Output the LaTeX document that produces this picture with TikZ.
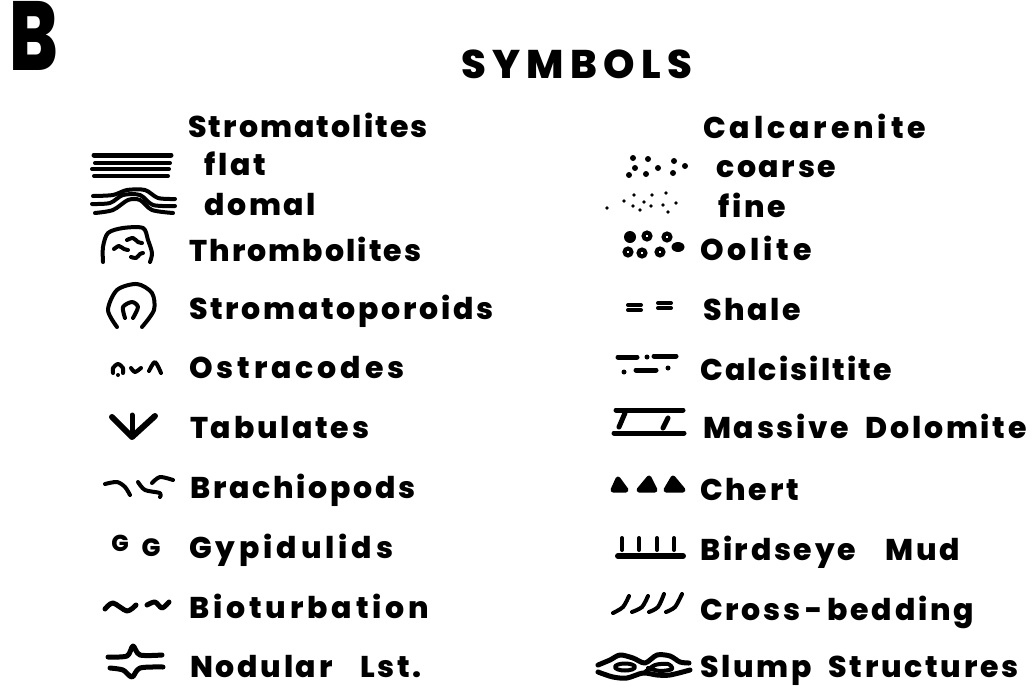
\documentclass[tikz,border=0pt]{standalone}
\usepackage{fontspec}
\setmainfont{Poppins}[LetterSpace=9, BoldFont={Poppins ExtraBold}]
\usepackage{tikz}

\begin{document}
\begin{tikzpicture}[
  x=1pt, y=-1pt,
  lbl/.style={anchor=base west, inner sep=0pt, font=\bfseries\fontsize{30}{34}\selectfont},
  wide lbl/.style={lbl, font=\bfseries\fontsize{30}{34}\selectfont\addfontfeature{LetterSpace=13}},
  tight lbl/.style={lbl, font=\bfseries\fontsize{30}{34}\selectfont\addfontfeature{LetterSpace=7}},
  sym/.style={line width=5pt, line cap=round, line join=round},
  thin sym/.style={sym, line width=4pt},
  grain/.style={fill=black, radius=3},
  fine grain/.style={fill=black, radius=1.9},
  ooid/.style={draw=black, line width=4pt, radius=3.5},
  chert/.style={fill=black, draw=black, line width=5pt, line join=round}
]
\useasboundingbox (0,0) rectangle (1036,686);
% headings
\node[anchor=base west, inner sep=0pt, font=\bfseries\fontsize{98}{100}\selectfont] (panel) at (9,70) {\scalebox{0.74}[1]{B}};
\node[lbl, font=\bfseries\fontsize{40}{44}\selectfont\addfontfeature{LetterSpace=16}] (title) at (461,78) {SYMBOLS};
% left column
\node[tight lbl] (stromatolites) at (188,137) {Stromatolites};
\node[lbl] (flat) at (204,175) {flat};
\node[lbl] (domal) at (204,215) {domal};
\node[tight lbl] (thrombolites) at (189,261) {Thrombolites};
\node[lbl] (stromatoporoids) at (189,319) {Stromatoporoids};
\node[wide lbl] (ostracodes) at (189,378) {Ostracodes};
\node[lbl] (tabulates) at (190,438) {Tabulates};
\node[lbl] (brachiopods) at (190,498) {Brachiopods};
\node[wide lbl] (gypidulids) at (189,558) {Gypidulids};
\node[wide lbl] (bioturbation) at (189,618) {Bioturbation};
\node[lbl] (nodular) at (190,677) {Nodular\hspace{28pt}Lst.};
% right column
\node[wide lbl] (calcarenite) at (703,138) {Calcarenite};
\node[lbl] (coarse) at (716,177) {coarse};
\node[lbl] (fine) at (718,217) {fine};
\node[wide lbl] (oolite) at (700,260) {Oolite};
\node[lbl] (shale) at (703,320) {Shale};
\node[tight lbl] (calcisiltite) at (700,380) {Calcisiltite};
\node[lbl] (dolomite) at (703,438) {Massive\ \ Dolomite};
\node[lbl] (chertlbl) at (700,500) {Chert};
\node[lbl] (birdseye) at (700,560) {Birdseye\hspace{30pt}Mud};
\node[lbl] (crossbed) at (700,620) {Cross\,-\,bedding};
\node[lbl] (slump) at (700,677) {Slump\ \ Structures};
% stromatolites
\draw[sym] (94,155) -- (171,155);
\draw[thin sym] (95,163) -- (170,163);
\draw[thin sym] (92,169) -- (169,169);
\draw[thin sym] (94,176) -- (168,176);
\draw[thin sym] plot[smooth] coordinates {(93,196) (113,195) (127,190) (145,190) (158,198) (175,199)};
\draw[thin sym] plot[smooth] coordinates {(92,204) (110,203) (123,195) (140,195) (153,205) (175,206)};
\draw[thin sym] plot[smooth] coordinates {(95,213) (113,210) (128,200) (140,200) (152,210) (173,213)};
% thrombolites
\draw[thin sym] plot[smooth] coordinates {(103,262) (103,247) (108,233) (123,228) (143,228) (148,240) (152,253) (150,262)};
\draw[thin sym] plot[smooth] coordinates {(114,249) (119,246) (124,249) (128,250)};
\draw[thin sym] plot[smooth] coordinates {(127,240) (133,238) (138,242) (142,243)};
\draw[thin sym] plot[smooth] coordinates {(131,257) (136,258) (140,254) (143,253)};
% stromatoporoids
\draw[thin sym] plot[smooth] coordinates {(117,327) (108,310) (117,290) (137,284) (152,293) (154,310) (142,327)};
\draw[thin sym] plot[smooth] coordinates {(125,318) (123,307) (132,302) (138,307) (133,318)};
% ostracodes
\draw[thin sym] plot[smooth] coordinates {(113,373) (113,368) (118,364) (123,368) (123,373)};
\fill (118,375) circle[radius=2];
\draw[thin sym] plot[smooth] coordinates {(131,368) (135,372) (141,368)};
\draw[thin sym] plot[smooth] coordinates {(149,371) (155,362) (161,373)};
% tabulates
\draw[sym, line width=6pt] (112,417) -- (132,437) -- (155,416);
\draw[sym] (132,415) -- (132,436);
% brachiopods
\draw[thin sym] plot[smooth] coordinates {(105,484) (117,482) (125,487) (130,495)};
\draw[thin sym] plot[smooth] coordinates {(173,480) (160,477) (152,483)};
\draw[thin sym] plot[smooth] coordinates {(138,482) (145,490) (160,493) (160,497)};
% gypidulids
\node[inner sep=0pt, font=\bfseries\fontsize{23}{25}\selectfont] (gfirst) at (120,543) {G};
\node[inner sep=0pt, font=\bfseries\fontsize{25}{27}\selectfont] (gsecond) at (151,548) {G};
% bioturbation
\draw[sym] plot[smooth] coordinates {(105,609) (113,603) (127,611) (136,605)};
\draw[sym] plot[smooth] coordinates {(147,605) (155,602) (162,608) (169,602)};
% nodular
\draw[sym] plot[smooth] coordinates {(108,657) (127,656) (133,646) (140,655) (162,655)};
\draw[sym] plot[smooth] coordinates {(110,668) (123,670) (132,677) (140,668) (163,667)};
% calcarenite
\foreach \gx/\gy in {633/158,648/159,674/161,685/166,635/168,658/168,629/175,646/174,673/173}
  \fill[grain] (\gx,\gy) circle[];
\foreach \gx/\gy in {607/208,624/201,634/195,652/195,666/193,644/202,633/206,651/206,663/205,676/203,640/210,668/212}
  \fill[fine grain] (\gx,\gy) circle[];
% oolite
\fill (630,237) circle[radius=6];
\fill (678,247) circle[x radius=6.5, y radius=5];
\foreach \gx/\gy in {647/236,667/237,628/252,642/253,660/252}
  \draw[ooid] (\gx,\gy) circle[];
% shale
\draw[thin sym] (628,305) -- (641,305);
\draw[thin sym] (628,310) -- (641,310);
\draw[thin sym] (658,303) -- (671,303);
\draw[thin sym] (658,308) -- (671,308);
% calcisiltite
\draw[sym] (618,357) -- (637,357);
\fill (647,357) circle[radius=2.5];
\draw[sym] (654,356) -- (676,356);
\fill (624,372) circle[radius=2.5];
\draw[sym] (636,370) -- (656,370);
\fill (668,368) circle[radius=2.5];
% massive dolomite
\draw[sym] (616,410) -- (683,410);
\draw[sym] (625,413) -- (619,427);
\draw[sym] (668,418) -- (663,428);
\draw[sym] (614,433) -- (684,433);
% chert
\draw[chert] (618,479) -- (613,490) -- (626,490) -- cycle;
\draw[chert] (649,478) -- (639,490) -- (655,490) -- cycle;
\draw[chert] (673,478) -- (666,490) -- (683,490) -- cycle;
% birdseye
\foreach \gx in {622,639,657,674}
  \draw[thin sym] (\gx,538) -- (\gx,550);
\draw[sym, line width=6pt] (618,556) -- (683,556);
% cross-bedding
\draw[thin sym] plot[smooth] coordinates {(613,613) (623,607) (629,596)};
\draw[thin sym] plot[smooth] coordinates {(632,612) (642,607) (648,596)};
\draw[thin sym] plot[smooth] coordinates {(649,612) (658,607) (664,594)};
\draw[thin sym] plot[smooth] coordinates {(666,612) (675,607) (682,594)};
% slump
\draw[sym] plot[smooth] coordinates {(598,665) (610,660) (620,655) (633,658) (645,663) (657,655) (670,656) (680,662) (689,663)};
\draw[sym] plot[smooth] coordinates {(598,672) (613,677) (627,678) (643,673) (657,675) (670,675) (690,670)};
\draw[thin sym] (625,667) circle[x radius=10, y radius=3.5];
\draw[thin sym] plot[smooth] coordinates {(645,672) (655,665) (668,664) (672,669) (660,671) (648,668)};
\end{tikzpicture}
\end{document}
